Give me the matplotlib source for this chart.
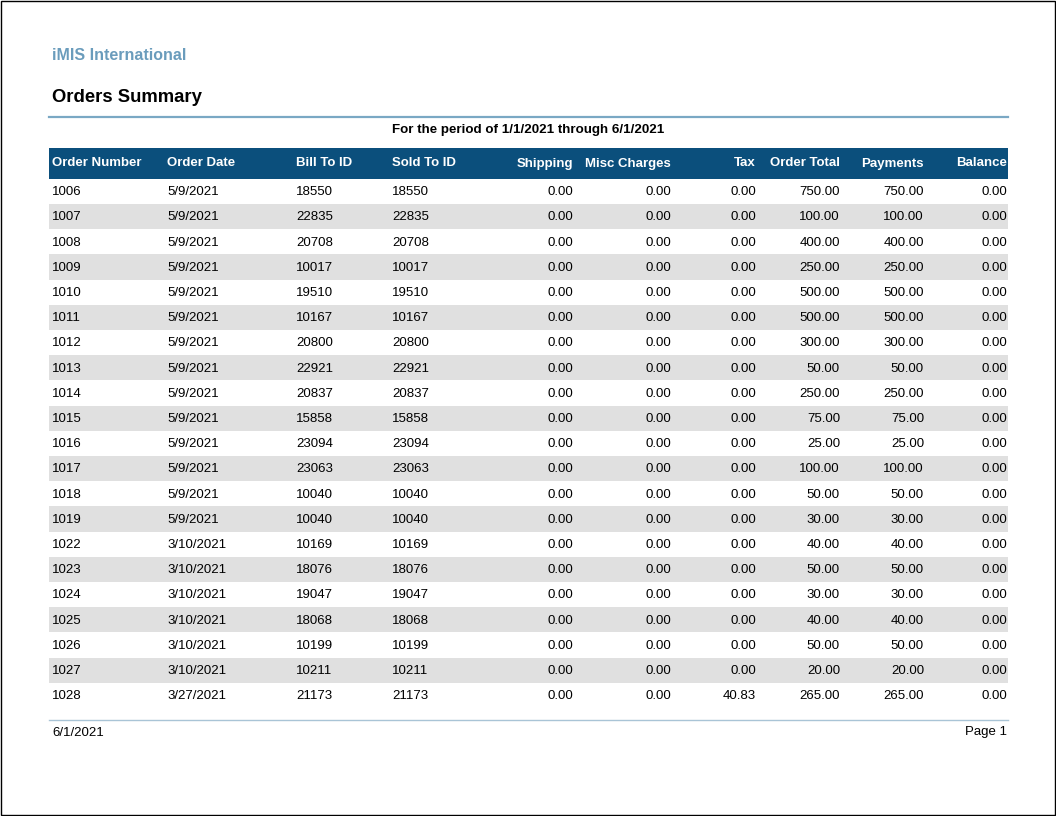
import matplotlib.pyplot as plt
from matplotlib.patches import Rectangle

company = "iMIS International"
title = "Orders Summary"
period = "For the period of 1/1/2021 through 6/1/2021"
report_date = "6/1/2021"
page_label = "Page 1"

columns = ["Order Number", "Order Date", "Bill To ID", "Sold To ID", "Shipping",
           "Misc Charges", "Tax", "Order Total", "Payments", "Balance"]

order_numbers = [1006, 1007, 1008, 1009, 1010, 1011, 1012, 1013, 1014, 1015, 1016,
                 1017, 1018, 1019, 1022, 1023, 1024, 1025, 1026, 1027, 1028]
order_dates = ["5/9/2021"] * 14 + ["3/10/2021"] * 6 + ["3/27/2021"]
bill_to = [18550, 22835, 20708, 10017, 19510, 10167, 20800, 22921, 20837, 15858, 23094,
           23063, 10040, 10040, 10169, 18076, 19047, 18068, 10199, 10211, 21173]
sold_to = bill_to[:]
shipping = [0.0] * 21
misc = [0.0] * 21
tax = [0.0] * 20 + [40.83]
order_total = [750, 100, 400, 250, 500, 500, 300, 50, 250, 75, 25,
               100, 50, 30, 40, 50, 30, 40, 50, 20, 265]
payments = order_total[:]
balance = [0.0] * 21

font = ["Liberation Sans", "DejaVu Sans"]
navy = "#0b4f7c"
steel = "#6a9cbc"
stripe = "#e0e0e0"

# column anchors (pixel x) and alignment
col_x = [52, 167, 296, 392, 573, 671, 756, 840, 924, 1007]
col_align = ["left"] * 4 + ["right"] * 6
header_x = [52, 167, 296, 392, 573, 585, 756, 840, 924, 1007]
header_align = ["left"] * 4 + ["right", "left"] + ["right"] * 4

left, right = 49, 1008
row_top = 178.7
row_h = 25.2

fig = plt.figure(figsize=(10.56, 8.16), dpi=100)
ax = fig.add_axes([0, 0, 1, 1])
ax.set_xlim(0, 1056)
ax.set_ylim(816, 0)
ax.axis("off")

# page border
ax.add_patch(Rectangle((0.5, 0.5), 1054.5, 814.5, fill=False, ec="black", lw=1))

ax.text(52, 60.5, company, color=steel, fontsize=11.5, fontweight="bold",
        family=font, va="baseline")
ax.text(52, 102, title, color="black", fontsize=13.3, fontweight="bold",
        family=font, va="baseline")
ax.plot([left, right], [117, 117], color="#7aa8c4", lw=1.6)
ax.text((left + right) / 2, 133.5, period, fontsize=9.6, fontweight="bold",
        family=font, ha="center", va="baseline")

# header band
ax.add_patch(Rectangle((left, 148), right - left, row_top - 148, color=navy, lw=0))
for name, x, al in zip(columns, header_x, header_align):
    ax.text(x, 166.5, name, color="white", fontsize=9.5, fontweight="bold",
            family=font, ha=al, va="baseline")

rows = []
for i in range(len(order_numbers)):
    rows.append([str(order_numbers[i]), order_dates[i], str(bill_to[i]), str(sold_to[i]),
                 f"{shipping[i]:.2f}", f"{misc[i]:.2f}", f"{tax[i]:.2f}",
                 f"{order_total[i]:.2f}", f"{payments[i]:.2f}", f"{balance[i]:.2f}"])

for i, row in enumerate(rows):
    top = row_top + i * row_h
    if i % 2 == 1:
        ax.add_patch(Rectangle((left, top), right - left, row_h, color=stripe, lw=0))
    base = top + row_h / 2 + 4.0
    for val, x, al in zip(row, col_x, col_align):
        ax.text(x, base, val, fontsize=9.5, family=font, ha=al, va="baseline")

# footer
ax.plot([left, right], [720, 720], color="#a9c4d6", lw=1)
ax.text(52, 735.5, report_date, fontsize=9.5, family=font, va="baseline")
ax.text(1007, 735.5, page_label, fontsize=9.5, family=font, ha="right", va="baseline")

fig.savefig("out.png", dpi=100, facecolor="white")
